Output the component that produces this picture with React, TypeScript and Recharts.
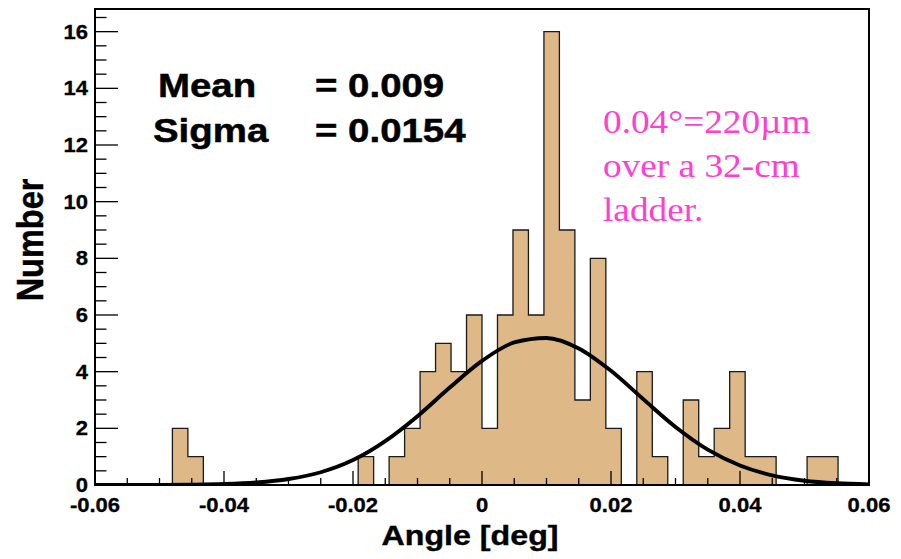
import {
  Area,
  ComposedChart,
  Label,
  Line,
  ReferenceArea,
  XAxis,
  YAxis,
} from "recharts";

// histogram: 50 bins of 0.0024 from -0.06
const BIN_LO = -0.06;
const BIN_W = 0.0024;
const counts = [
  0, 0, 0, 0, 0, 2, 1, 0, 0, 0,
  0, 0, 0, 0, 0, 0, 0, 1, 0, 1,
  2, 4, 5, 4, 6, 2, 6, 9, 6, 16,
  9, 3, 8, 2, 0, 4, 1, 0, 3, 1,
  2, 4, 1, 1, 0, 0, 1, 1, 0, 0,
];

// gaussian fit curve
const curveX = [
  -0.06, -0.055, -0.05, -0.045, -0.04, -0.035, -0.03, -0.025, -0.02, -0.015,
  -0.01, -0.005, 0, 0.005, 0.01, 0.015, 0.02, 0.025, 0.03, 0.035, 0.04,
  0.045, 0.05, 0.055, 0.06,
];
const curveY = [
  0.0002, 0.0009, 0.003, 0.011, 0.033, 0.088, 0.21, 0.45, 0.88, 1.55, 2.43,
  3.44, 4.38, 5.03, 5.19, 4.82, 4.03, 3.03, 2.05, 1.25, 0.69, 0.34, 0.15,
  0.06, 0.022,
];

const xTicks = [
  -0.06, -0.055, -0.05, -0.045, -0.04, -0.035, -0.03, -0.025, -0.02, -0.015,
  -0.01, -0.005, 0, 0.005, 0.01, 0.015, 0.02, 0.025, 0.03, 0.035, 0.04,
  0.045, 0.05, 0.055, 0.06,
];
const xMajor = [-0.06, -0.04, -0.02, 0, 0.02, 0.04, 0.06];
const xLabels = ["-0.06", "-0.04", "-0.02", "0", "0.02", "0.04", "0.06"];

const yTicks = [
  0, 0.5, 1, 1.5, 2, 2.5, 3, 3.5, 4, 4.5, 5, 5.5, 6, 6.5, 7, 7.5, 8, 8.5, 9,
  9.5, 10, 10.5, 11, 11.5, 12, 12.5, 13, 13.5, 14, 14.5, 15, 15.5, 16, 16.5,
];
const yMajor = [0, 2, 4, 6, 8, 10, 12, 14, 16];

const fitMean = "0.009";
const fitSigma = "0.0154";
const note = ["0.04\u00b0=220\u00b5m", "over a 32-cm", "ladder."];

const histData = [
  ...counts.map((n, i) => ({ x: BIN_LO + i * BIN_W, n })),
  { x: 0.06, n: 0 },
];
const curveData = curveX.map((x, i) => ({ x, y: curveY[i] }));

const SANS = "'Liberation Sans', Arial, Helvetica, sans-serif";
const SERIF = "'Liberation Serif', 'Times New Roman', serif";
const SX = 1.13; // the original is stretched horizontally

const near = (arr: number[], v: number) =>
  arr.findIndex((a) => Math.abs(a - v) < 1e-9);

function XTick(props: any) {
  const { x, y, payload } = props;
  const idx = near(xMajor, payload.value);
  const len = idx >= 0 ? 14 : 7;
  return (
    <g>
      <line x1={x} x2={x} y1={y} y2={y - len} stroke="#000" strokeWidth={1.3} />
      {idx >= 0 && (
        <text
          transform={`translate(${x} ${y + 27}) scale(${SX} 1)`}
          textAnchor="middle"
          fontFamily={SANS}
          fontWeight="bold"
          fontSize={19.5}
          fill="#000"
          stroke="#000"
          strokeWidth={0.3}
        >
          {xLabels[idx]}
        </text>
      )}
    </g>
  );
}

function YTick(props: any) {
  const { x, y, payload } = props;
  const major = near(yMajor, payload.value) >= 0;
  const len = major ? 23 : 11.5;
  return (
    <g>
      <line x1={x} x2={x + len} y1={y} y2={y} stroke="#000" strokeWidth={1.3} />
      {major && (
        <text
          transform={`translate(${x - 7} ${y + 7}) scale(${SX} 1)`}
          textAnchor="end"
          fontFamily={SANS}
          fontWeight="bold"
          fontSize={19.5}
          fill="#000"
          stroke="#000"
          strokeWidth={0.3}
        >
          {payload.value}
        </text>
      )}
    </g>
  );
}

function Txt({
  x,
  y,
  size,
  family,
  weight,
  color = "#000",
  outline = 0,
  children,
}: {
  x: number;
  y: number;
  size: number;
  family: string;
  weight?: string;
  color?: string;
  outline?: number;
  children: string;
}) {
  return (
    <text
      transform={`translate(${x} ${y}) scale(${SX} 1)`}
      fontFamily={family}
      fontWeight={weight}
      fontSize={size}
      fill={color}
      stroke={outline ? color : "none"}
      strokeWidth={outline}
    >
      {children}
    </text>
  );
}

export default function App() {
  return (
    <div
      style={{
        position: "absolute",
        left: 0,
        top: 0,
        width: 901,
        height: 559,
        background: "#fff",
      }}
    >
      <ComposedChart
        width={901}
        height={559}
        margin={{ top: 9, right: 32, bottom: 0, left: 0 }}
      >
        <Area
          data={histData}
          dataKey="n"
          type="stepAfter"
          fill="#deb887"
          fillOpacity={1}
          stroke="#1a1a1a"
          strokeWidth={1.3}
          dot={false}
          activeDot={false}
          isAnimationActive={false}
        />
        <Line
          data={curveData}
          dataKey="y"
          type="monotone"
          stroke="#000"
          strokeWidth={3.9}
          dot={false}
          activeDot={false}
          isAnimationActive={false}
        />
        <ReferenceArea
          x1={-0.06}
          x2={0.06}
          y1={0}
          y2={16.8}
          fill="none"
          fillOpacity={0}
          stroke="#000"
          strokeWidth={2}
          strokeOpacity={1}
          ifOverflow="visible"
        />
        <XAxis
          dataKey="x"
          type="number"
          domain={[-0.06, 0.06]}
          allowDataOverflow
          ticks={xTicks}
          interval={0}
          height={74}
          tickSize={0}
          tickMargin={0}
          tickLine={false}
          tick={<XTick />}
          axisLine={{ stroke: "#000", strokeWidth: 2 }}
        >
          <Label
            content={({ viewBox }: any) => (
              <text
                transform={`translate(${viewBox.x + viewBox.width / 2 - 12} ${
                  viewBox.y + viewBox.height - 14
                }) scale(${SX} 1)`}
                textAnchor="middle"
                fontFamily={SANS}
                fontWeight="bold"
                fontSize={28.5}
                fill="#000"
                stroke="#000"
                strokeWidth={0.4}
              >
                Angle [deg]
              </text>
            )}
          />
        </XAxis>
        <YAxis
          type="number"
          domain={[0, 16.8]}
          allowDataOverflow
          ticks={yTicks}
          interval={0}
          width={95}
          tickSize={0}
          tickMargin={0}
          tickLine={false}
          tick={<YTick />}
          axisLine={{ stroke: "#000", strokeWidth: 2 }}
        >
          <Label
            content={({ viewBox }: any) => {
              const cx = viewBox.x + 30;
              const cy = viewBox.y + viewBox.height / 2 - 7;
              return (
                <text
                  transform={`rotate(-90 ${cx} ${cy}) translate(${cx} ${cy}) scale(1 ${SX})`}
                  textAnchor="middle"
                  dominantBaseline="central"
                  fontFamily={SANS}
                  fontWeight="bold"
                  fontSize={32.5}
                  fill="#000"
                  stroke="#000"
                  strokeWidth={0.4}
                >
                  Number
                </text>
              );
            }}
          />
        </YAxis>
      </ComposedChart>
      <svg
        width={901}
        height={559}
        style={{ position: "absolute", left: 0, top: 0, pointerEvents: "none" }}
      >
        <Txt x={158} y={97} size={34} family={SANS} weight="bold" outline={0.5}>
          Mean
        </Txt>
        <Txt x={315} y={97} size={34} family={SANS} weight="bold" outline={0.5}>
          {`= ${fitMean}`}
        </Txt>
        <Txt x={153} y={142} size={34} family={SANS} weight="bold" outline={0.5}>
          Sigma
        </Txt>
        <Txt x={315} y={142} size={34} family={SANS} weight="bold" outline={0.5}>
          {`= ${fitSigma}`}
        </Txt>
        {note.map((line, i) => (
          <Txt
            key={line}
            x={603}
            y={133 + i * 44}
            size={33}
            family={SERIF}
            color="#ff3fcf"
          >
            {line}
          </Txt>
        ))}
      </svg>
    </div>
  );
}
